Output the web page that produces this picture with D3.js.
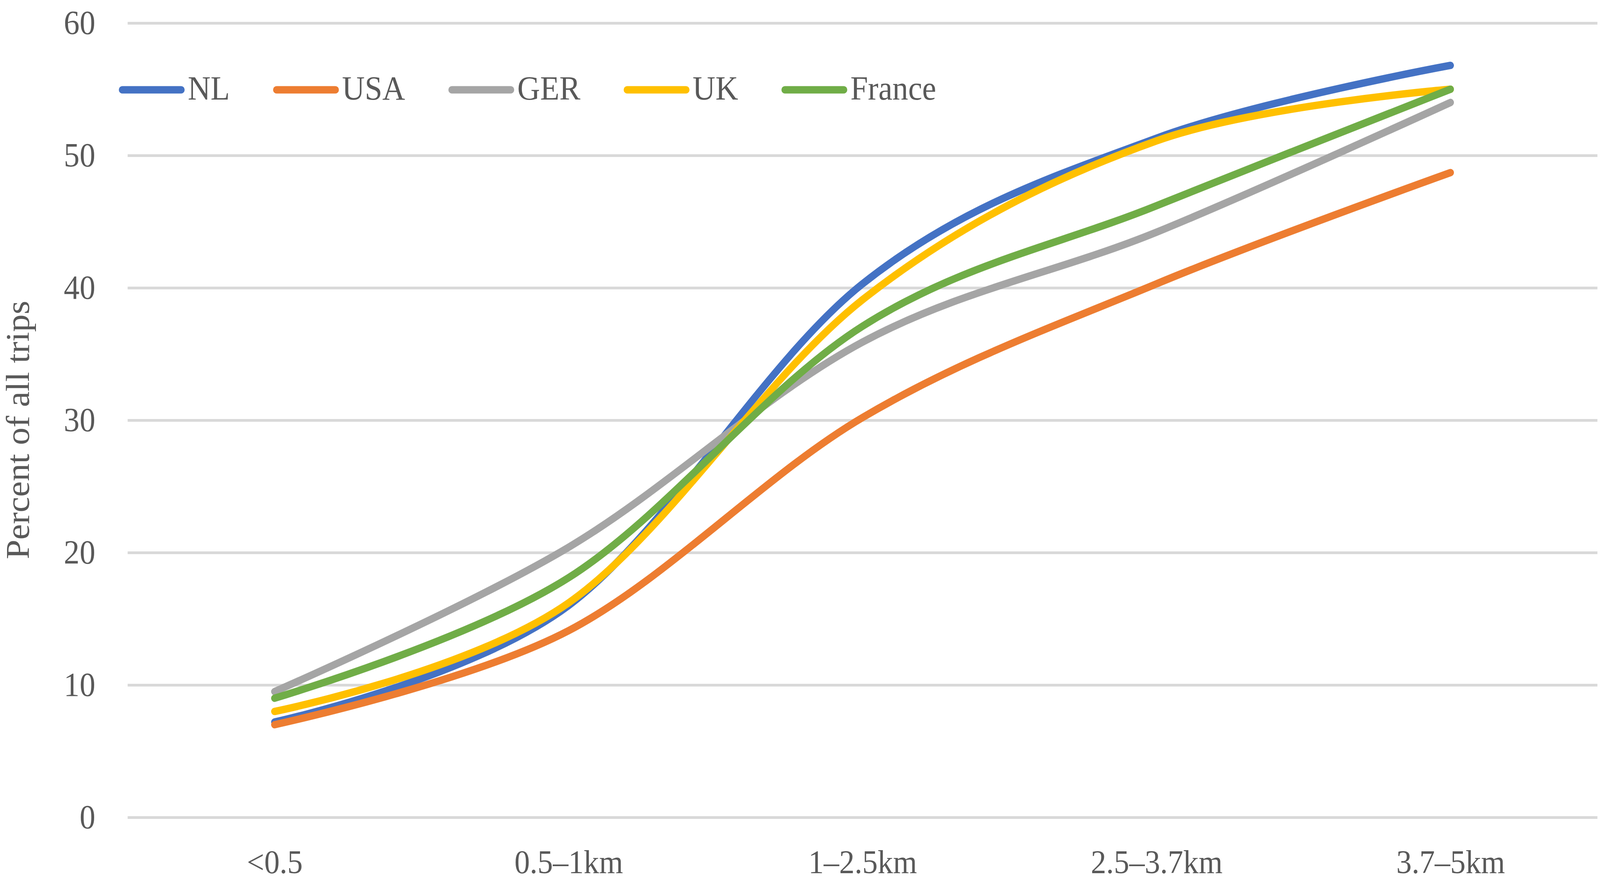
<!DOCTYPE html>
<html>
<head>
    <meta charset="utf-8">
    <script type="text/javascript" src="https://cdn.jsdelivr.net/npm/d3@7"></script>
    <style>
    html, body { margin:0; padding:0; background:#fff; overflow:hidden; }
    svg { display:block; width:100vw; height:100vh; }
    text { font-family:"Liberation Serif", "DejaVu Serif", serif; fill:#595959; }
    .grid line { stroke:#d9d9d9; stroke-width:7px; }
    .series { fill:none; stroke-width:19px; stroke-linecap:round; stroke-linejoin:round; }
    </style>
</head>
<body>
    <script>
        // categories along the x axis
        var categories = ["<0.5", "0.5\u20131km", "1\u20132.5km", "2.5\u20133.7km", "3.7\u20135km"];

        // series values (percent of all trips)
        var nl     = [7.2, 16.0, 40.3, 51.3, 56.8];
        var usa    = [7.0, 14.1, 30.2, 40.3, 48.7];
        var ger    = [9.5, 20.4, 35.9, 44.2, 54.0];
        var uk     = [8.0, 16.2, 39.1, 51.1, 55.0];
        var france = [9.0, 18.1, 37.1, 46.2, 55.0];

        var seriesNames = ["NL", "USA", "GER", "UK", "France"];
        var yTicks = [0, 10, 20, 30, 40, 50, 60];

        var colors = ["#4472C4", "#ED7D31", "#A5A5A5", "#FFC000", "#70AD47"];
        var series = [nl, usa, ger, uk, france].map(function(v, i) {
            return { name: seriesNames[i], values: v, color: colors[i] };
        });

        var width = 4363,
            height = 2256;
        // plot area (window.top is reserved, so these get a prefix)
        var plotLeft = 348, plotRight = 4356, plotTop = 59, plotBottom = 2093;

        // viewBox so the drawing always fills the window it is shown in
        var svg = d3.select('body')
            .append('svg')
            .attr('viewBox', '0 0 ' + width + ' ' + height)
            .attr('preserveAspectRatio', 'none');

        var x = d3.scalePoint()
            .domain(categories)
            .range([plotLeft, plotRight])
            .padding(0.5);

        var y = d3.scaleLinear()
            .domain([0, 60])
            .range([plotBottom, plotTop]);

        // horizontal gridlines + y tick labels
        var yAxis = svg.append('g')
            .attr('class', 'grid')
            .attr('transform', 'translate(' + plotLeft + ',0)')
            .call(d3.axisLeft(y).tickValues(yTicks).tickSize(-(plotRight - plotLeft)).tickPadding(88));
        yAxis.select('.domain').remove();
        yAxis.selectAll('text')
            .attr('font-size', 86)
            .style('font-family', '"Liberation Serif", serif')
            .attr('fill', '#595959');

        // x labels
        var xAxis = svg.append('g')
            .attr('transform', 'translate(0,' + plotBottom + ')')
            .call(d3.axisBottom(x).tickSize(0));
        xAxis.select('.domain').remove();
        xAxis.selectAll('text')
            .attr('font-size', 84)
            .style('font-family', '"Liberation Serif", serif')
            .attr('fill', '#595959')
            .attr('dy', null)
            .attr('y', 143);

        // y axis title
        svg.append('text')
            .attr('transform', 'translate(79,' + ((plotTop + plotBottom) / 2 + 25) + ') rotate(-90)')
            .attr('text-anchor', 'middle')
            .attr('font-size', 90)
            .text('Percent of all trips');

        // the smoothed lines
        var line = d3.line()
            .x(function(d, i) { return x(categories[i]); })
            .y(function(d) { return y(d); })
            .curve(d3.curveCardinal.tension(0));

        svg.selectAll('path.series')
            .data(series)
            .enter().append('path')
            .attr('class', 'series')
            .attr('stroke', function(d) { return d.color; })
            .attr('d', function(d) { return line(d.values); });

        // legend, laid out left to right
        var legend = svg.append('g');
        var lx = 324, ly = 230;
        series.forEach(function(s) {
            legend.append('line')
                .attr('x1', lx + 9.5).attr('x2', lx + 170)
                .attr('y1', ly).attr('y2', ly)
                .attr('stroke', s.color)
                .attr('stroke-width', 19)
                .attr('stroke-linecap', 'round');
            var t = legend.append('text')
                .attr('x', lx + 188)
                .attr('y', ly + 25)
                .attr('font-size', 86)
                .text(s.name);
            lx = lx + 188 + t.node().getComputedTextLength() + 118;
        });
    </script>
</body>
</html>
